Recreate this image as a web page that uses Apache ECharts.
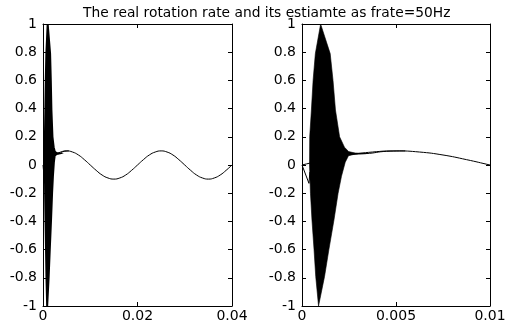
<!DOCTYPE html>
<html>
<head>
<meta charset="utf-8">
<script src="https://cdn.jsdelivr.net/npm/echarts@6/dist/echarts.min.js"></script>
<style>
  html, body { margin: 0; padding: 0; background: #fff; }
  #chart { width: 509px; height: 328px; }
</style>
</head>
<body>
<div id="chart"></div>
<script>
// real rotation rate (50 Hz sine)
const realTime = [0, 0.00125, 0.0025, 0.00375, 0.005, 0.00625, 0.0075, 0.00875, 0.01,
  0.01125, 0.0125, 0.01375, 0.015, 0.01625, 0.0175, 0.01875, 0.02,
  0.02125, 0.0225, 0.02375, 0.025, 0.02625, 0.0275, 0.02875, 0.03,
  0.03125, 0.0325, 0.03375, 0.035, 0.03625, 0.0375, 0.03875, 0.04];
const realValue = [0, 0.038, 0.071, 0.092, 0.1, 0.092, 0.071, 0.038, 0,
  -0.038, -0.071, -0.092, -0.1, -0.092, -0.071, -0.038, 0,
  0.038, 0.071, 0.092, 0.1, 0.092, 0.071, 0.038, 0,
  -0.038, -0.071, -0.092, -0.1, -0.092, -0.071, -0.038, 0];

// estimate: initial dip, then dense oscillation (drawn as its envelope), then tail
const estStartTime = [0, 0.00037, 0.00042];
const estStartValue = [0, -0.13, -0.05];
const estTailTime = [0.0028, 0.0034, 0.0045, 0.0055];
const estTailValue = [0.079, 0.081, 0.097, 0.1];

// outline of the black oscillation band, clockwise from the left edge at 0
const envTime = [0.00040, 0.00041, 0.00050, 0.00059, 0.00071, 0.00099, 0.00150, 0.00165,
  0.00178, 0.00200, 0.00226, 0.00248, 0.00283, 0.00340, 0.00283, 0.00248, 0.00230,
  0.00210, 0.00192, 0.00170, 0.00143, 0.00120, 0.00088, 0.00073, 0.00064, 0.00053, 0.00045];
const envValue = [0, 0.2, 0.39, 0.6, 0.79, 1, 0.79, 0.6,
  0.39, 0.2, 0.126, 0.095, 0.085, 0.081, 0.077, 0.067, 0.02,
  -0.08, -0.2, -0.39, -0.6, -0.79, -1, -0.79, -0.6, -0.39, -0.2];

const leftTicks = { min: 0, max: 0.04, interval: 0.02 };
const rightTicks = { min: 0, max: 0.01, interval: 0.005 };
const yTicks = { min: -1, max: 1, interval: 0.2 };

const titleText = 'The real rotation rate and its estiamte as frate=50Hz';

const FONT = 'DejaVu Sans';
const pairs = (xs, ys) => xs.map((x, i) => [x, ys[i]]);

function xAxes(grid, ticks) {
  const common = {
    type: 'value', gridIndex: grid, min: ticks.min, max: ticks.max, interval: ticks.interval,
    splitLine: { show: false },
    axisLine: { show: true, onZero: false, lineStyle: { color: '#000', width: 1 } },
    axisTick: { show: true, inside: true, length: 4, lineStyle: { color: '#000' } },
  };
  return [
    { ...common, position: 'bottom',
      axisLabel: { color: '#000', fontFamily: FONT, fontSize: 14, margin: 3 } },
    { ...common, position: 'top', axisLabel: { show: false } },
  ];
}

function yAxes(grid) {
  const common = {
    type: 'value', gridIndex: grid, min: yTicks.min, max: yTicks.max, interval: yTicks.interval,
    splitLine: { show: false },
    axisLine: { show: true, onZero: false, lineStyle: { color: '#000', width: 1 } },
    axisTick: { show: true, inside: true, length: 4, lineStyle: { color: '#000' } },
  };
  return [
    { ...common, position: 'left',
      axisLabel: { color: '#000', fontFamily: FONT, fontSize: 14, margin: 6 } },
    { ...common, position: 'right', axisLabel: { show: false } },
  ];
}

function panelSeries(xi, yi, strokeW) {
  return [
    {
      type: 'line', xAxisIndex: xi, yAxisIndex: yi, data: pairs(realTime, realValue),
      smooth: true, symbol: 'none', silent: true,
      lineStyle: { color: '#000', width: 1 },
    },
    {
      type: 'line', xAxisIndex: xi, yAxisIndex: yi, data: pairs(estStartTime, estStartValue),
      symbol: 'none', silent: true,
      lineStyle: { color: '#000', width: 1 },
    },
    {
      type: 'line', xAxisIndex: xi, yAxisIndex: yi, data: pairs(estTailTime, estTailValue),
      smooth: true, symbol: 'none', silent: true,
      lineStyle: { color: '#000', width: 1 },
    },
    {
      type: 'custom', xAxisIndex: xi, yAxisIndex: yi, silent: true,
      data: [[0, 0]],
      renderItem: (params, api) => ({
        type: 'polygon',
        shape: { points: envTime.map((t, i) => api.coord([t, envValue[i]])) },
        style: { fill: '#000', stroke: '#000', lineWidth: strokeW },
      }),
    },
  ];
}

const chart = echarts.init(document.getElementById('chart'), null, { renderer: 'canvas' });
chart.setOption({
  animation: false,
  backgroundColor: '#fff',
  title: {
    text: titleText, left: 78, top: 1,
    textStyle: { color: '#000', fontFamily: FONT, fontSize: 13.8, fontWeight: 'normal' },
  },
  grid: [
    { left: 43, right: 277, top: 24, bottom: 22 },
    { left: 302, right: 19, top: 24, bottom: 22 },
  ],
  xAxis: [...xAxes(0, leftTicks), ...xAxes(1, rightTicks)],
  yAxis: [...yAxes(0), ...yAxes(1)],
  series: [...panelSeries(0, 0, 2), ...panelSeries(2, 2, 0.6)],
});
</script>
</body>
</html>
